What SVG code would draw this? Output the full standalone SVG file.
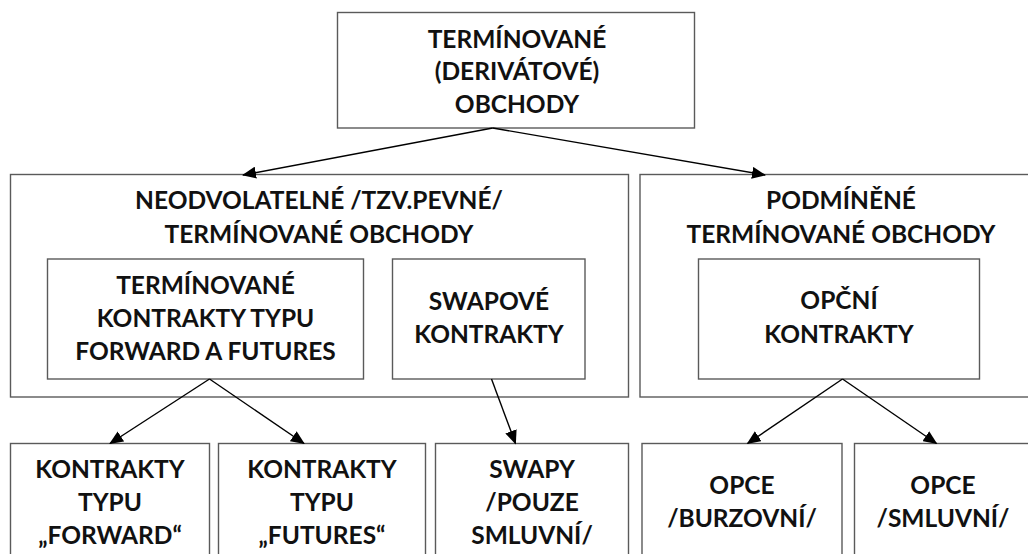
<svg xmlns="http://www.w3.org/2000/svg" width="1028" height="554" viewBox="0 0 1028 554">
<style>
.box{fill:#fff;stroke:#5a5a5a;stroke-width:1.4}
.t{font-family:Lato,"Open Sans","Liberation Sans",sans-serif;font-weight:700;font-size:24.5px;fill:#111;text-anchor:middle}
.c{stroke:#000;stroke-width:1.4;fill:none;marker-end:url(#ah)}
</style>
<defs>
<marker id="ah" viewBox="0 0 14 12" markerWidth="14" markerHeight="12" refX="13" refY="6" orient="auto" markerUnits="userSpaceOnUse">
<path d="M0,0 L14,6 L0,12 z" fill="#000"/>
</marker>
</defs>
<rect width="1028" height="554" fill="#fff"/>
<g id="n-top">
<rect class="box" x="337.5" y="12.5" width="357" height="115.5"/>
<text class="t" x="517" y="47.5">TERMÍNOVANÉ</text>
<text class="t" x="517" y="80">(DERIVÁTOVÉ)</text>
<text class="t" x="517" y="112.5">OBCHODY</text>
</g>
<g id="n-neodvolatelne">
<rect class="box" x="10.5" y="174.5" width="618" height="222.5"/>
<text class="t" x="319" y="209">NEODVOLATELNÉ /TZV.PEVNÉ/</text>
<text class="t" x="319" y="242.5">TERMÍNOVANÉ OBCHODY</text>
</g>
<g id="n-podminene">
<rect class="box" x="640" y="174.5" width="402" height="222.5"/>
<text class="t" x="841" y="209">PODMÍNĚNÉ</text>
<text class="t" x="841" y="242.5">TERMÍNOVANÉ OBCHODY</text>
</g>
<g id="n-forward-futures">
<rect class="box" x="47.5" y="259" width="316" height="120"/>
<text class="t" x="205.5" y="294">TERMÍNOVANÉ</text>
<text class="t" x="205.5" y="327">KONTRAKTY TYPU</text>
<text class="t" x="205.5" y="360">FORWARD A FUTURES</text>
</g>
<g id="n-swapove">
<rect class="box" x="392.5" y="259" width="192.5" height="120"/>
<text class="t" x="489" y="310">SWAPOVÉ</text>
<text class="t" x="489" y="343">KONTRAKTY</text>
</g>
<g id="n-opcni">
<rect class="box" x="698.5" y="259" width="281" height="120"/>
<text class="t" x="839" y="309">OPČNÍ</text>
<text class="t" x="839" y="342.5">KONTRAKTY</text>
</g>
<g id="n-forward">
<rect class="box" x="10.5" y="443.5" width="199" height="130"/>
<text class="t" x="110" y="477.5">KONTRAKTY</text>
<text class="t" x="110" y="510.5">TYPU</text>
<text class="t" x="110" y="543.5">„FORWARD“</text>
</g>
<g id="n-futures">
<rect class="box" x="218.5" y="443.5" width="207" height="130"/>
<text class="t" x="322" y="477.5">KONTRAKTY</text>
<text class="t" x="322" y="510.5">TYPU</text>
<text class="t" x="322" y="543.5">„FUTURES“</text>
</g>
<g id="n-swapy">
<rect class="box" x="435.5" y="443.5" width="193" height="130"/>
<text class="t" x="532" y="477.5">SWAPY</text>
<text class="t" x="532" y="510.5">/POUZE</text>
<text class="t" x="532" y="543.5">SMLUVNÍ/</text>
</g>
<g id="n-opce-burzovni">
<rect class="box" x="642" y="443.5" width="200" height="130"/>
<text class="t" x="742" y="493.5">OPCE</text>
<text class="t" x="742" y="526.5">/BURZOVNÍ/</text>
</g>
<g id="n-opce-smluvni">
<rect class="box" x="854.5" y="443.5" width="178" height="130"/>
<text class="t" x="943" y="493.5">OPCE</text>
<text class="t" x="943" y="526.5">/SMLUVNÍ/</text>
</g>
<g id="connectors">
<line class="c" x1="492.7" y1="128" x2="243" y2="175"/>
<line class="c" x1="492.7" y1="128" x2="765" y2="175"/>
<line class="c" x1="209.5" y1="379" x2="110" y2="443.5"/>
<line class="c" x1="209.5" y1="379" x2="304" y2="443.5"/>
<line class="c" x1="491.5" y1="379" x2="515.5" y2="443.5"/>
<line class="c" x1="842.5" y1="379" x2="747.5" y2="443.5"/>
<line class="c" x1="842.5" y1="379" x2="936.5" y2="443.5"/>
</g>
</svg>
